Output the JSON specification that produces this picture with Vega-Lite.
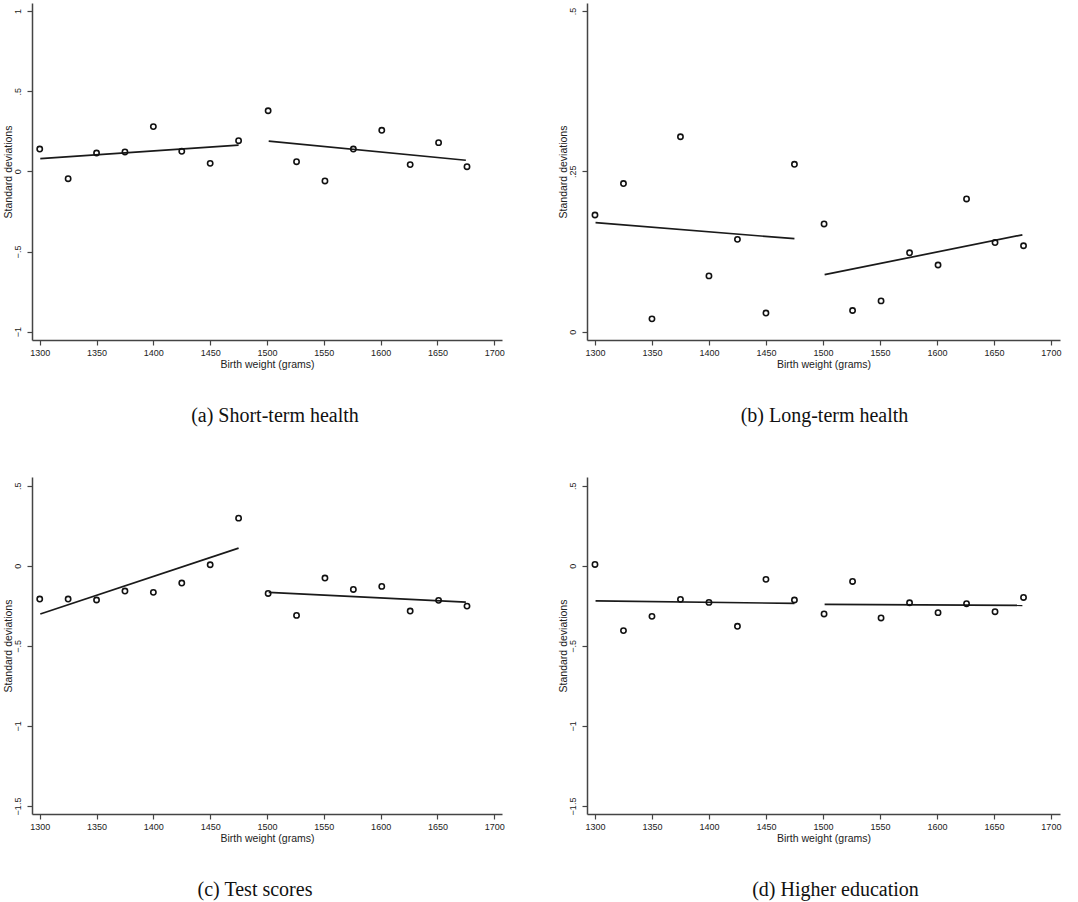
{
  "$schema": "https://vega.github.io/schema/vega-lite/v6.json",
  "background": "white",
  "padding": {"left": 2, "top": 3, "right": 5, "bottom": 5},
  "datasets": {
    "pts": [
      {"panel": "a", "x": 1300, "y": 0.139}, {"panel": "a", "x": 1325, "y": -0.046}, {"panel": "a", "x": 1350, "y": 0.114}, {"panel": "a", "x": 1375, "y": 0.121},
      {"panel": "a", "x": 1400, "y": 0.279}, {"panel": "a", "x": 1425, "y": 0.125}, {"panel": "a", "x": 1450, "y": 0.05}, {"panel": "a", "x": 1475, "y": 0.191},
      {"panel": "a", "x": 1501, "y": 0.378}, {"panel": "a", "x": 1526, "y": 0.06}, {"panel": "a", "x": 1551, "y": -0.06}, {"panel": "a", "x": 1576, "y": 0.139},
      {"panel": "a", "x": 1601, "y": 0.256}, {"panel": "a", "x": 1626, "y": 0.042}, {"panel": "a", "x": 1651, "y": 0.179}, {"panel": "a", "x": 1676, "y": 0.029},
      {"panel": "b", "x": 1300, "y": 0.182}, {"panel": "b", "x": 1325, "y": 0.231}, {"panel": "b", "x": 1350, "y": 0.02}, {"panel": "b", "x": 1375, "y": 0.304},
      {"panel": "b", "x": 1400, "y": 0.087}, {"panel": "b", "x": 1425, "y": 0.144}, {"panel": "b", "x": 1450, "y": 0.029}, {"panel": "b", "x": 1475, "y": 0.261},
      {"panel": "b", "x": 1501, "y": 0.168}, {"panel": "b", "x": 1526, "y": 0.033}, {"panel": "b", "x": 1551, "y": 0.048}, {"panel": "b", "x": 1576, "y": 0.123},
      {"panel": "b", "x": 1601, "y": 0.104}, {"panel": "b", "x": 1626, "y": 0.207}, {"panel": "b", "x": 1651, "y": 0.139}, {"panel": "b", "x": 1676, "y": 0.134},
      {"panel": "c", "x": 1300, "y": -0.208}, {"panel": "c", "x": 1325, "y": -0.208}, {"panel": "c", "x": 1350, "y": -0.214}, {"panel": "c", "x": 1375, "y": -0.158},
      {"panel": "c", "x": 1400, "y": -0.166}, {"panel": "c", "x": 1425, "y": -0.108}, {"panel": "c", "x": 1450, "y": 0.006}, {"panel": "c", "x": 1475, "y": 0.297},
      {"panel": "c", "x": 1501, "y": -0.173}, {"panel": "c", "x": 1526, "y": -0.31}, {"panel": "c", "x": 1551, "y": -0.077}, {"panel": "c", "x": 1576, "y": -0.148},
      {"panel": "c", "x": 1601, "y": -0.129}, {"panel": "c", "x": 1626, "y": -0.283}, {"panel": "c", "x": 1651, "y": -0.216}, {"panel": "c", "x": 1676, "y": -0.252},
      {"panel": "d", "x": 1300, "y": 0.008}, {"panel": "d", "x": 1325, "y": -0.405}, {"panel": "d", "x": 1350, "y": -0.316}, {"panel": "d", "x": 1375, "y": -0.21},
      {"panel": "d", "x": 1400, "y": -0.229}, {"panel": "d", "x": 1425, "y": -0.378}, {"panel": "d", "x": 1450, "y": -0.085}, {"panel": "d", "x": 1475, "y": -0.214},
      {"panel": "d", "x": 1501, "y": -0.301}, {"panel": "d", "x": 1526, "y": -0.098}, {"panel": "d", "x": 1551, "y": -0.326}, {"panel": "d", "x": 1576, "y": -0.231},
      {"panel": "d", "x": 1601, "y": -0.293}, {"panel": "d", "x": 1626, "y": -0.237}, {"panel": "d", "x": 1651, "y": -0.287}, {"panel": "d", "x": 1676, "y": -0.198}
    ],
    "fits": [
      {"panel": "a", "side": "L", "x": 1300.5, "y": 0.079}, {"panel": "a", "side": "L", "x": 1475, "y": 0.164},
      {"panel": "a", "side": "R", "x": 1501.5, "y": 0.189}, {"panel": "a", "side": "R", "x": 1675, "y": 0.069},
      {"panel": "b", "side": "L", "x": 1300.5, "y": 0.17}, {"panel": "b", "side": "L", "x": 1475, "y": 0.145},
      {"panel": "b", "side": "R", "x": 1501.5, "y": 0.089}, {"panel": "b", "side": "R", "x": 1675, "y": 0.151},
      {"panel": "c", "side": "L", "x": 1300.5, "y": -0.301}, {"panel": "c", "side": "L", "x": 1475, "y": 0.11},
      {"panel": "c", "side": "R", "x": 1501.5, "y": -0.166}, {"panel": "c", "side": "R", "x": 1675, "y": -0.227},
      {"panel": "d", "side": "L", "x": 1300.5, "y": -0.22}, {"panel": "d", "side": "L", "x": 1475, "y": -0.235},
      {"panel": "d", "side": "R", "x": 1501.5, "y": -0.241}, {"panel": "d", "side": "R", "x": 1675, "y": -0.247}
    ]
  },
  "columns": 2,
  "bounds": "flush",
  "spacing": {"column": 85, "row": 137},
  "concat": [
    {
      "width": 470, "height": 337,
      "title": {"text": "(a) Short-term health", "dx": 8},
      "layer": [
        {"mark": {"type": "rule", "color": "#9a9a9a", "strokeDash": [1, 2], "strokeWidth": 1},
         "encoding": {"x": {"datum": 1500, "type": "quantitative"}}},
        {"data": {"name": "fits"}, "transform": [{"filter": "datum.panel === 'a'"}],
         "mark": {"type": "line", "color": "#1a1a1a", "strokeWidth": 1.7},
         "encoding": {"x": {"field": "x", "type": "quantitative"}, "y": {"field": "y", "type": "quantitative"}, "detail": {"field": "side"}}},
        {"data": {"name": "pts"}, "transform": [{"filter": "datum.panel === 'a'"}],
         "mark": {"type": "point", "shape": "circle", "filled": false, "color": "#111", "size": 28, "strokeWidth": 1.6, "opacity": 1},
         "encoding": {
           "x": {"field": "x", "type": "quantitative", "scale": {"domain": [1293.2, 1706.8], "nice": false, "zero": false}, "axis": {"values": [1300, 1350, 1400, 1450, 1500, 1550, 1600, 1650, 1700]}, "title": "Birth weight (grams)"},
           "y": {"field": "y", "type": "quantitative", "scale": {"domain": [-1.052, 1.05], "nice": false, "zero": false}, "axis": {"values": [-1, -0.5, 0, 0.5, 1]}, "title": "Standard deviations"}
         }}
      ]
    },
    {
      "width": 473, "height": 337,
      "title": {"text": "(b) Long-term health", "dx": 1},
      "layer": [
        {"mark": {"type": "rule", "color": "#9a9a9a", "strokeDash": [1, 2], "strokeWidth": 1},
         "encoding": {"x": {"datum": 1500, "type": "quantitative"}}},
        {"data": {"name": "fits"}, "transform": [{"filter": "datum.panel === 'b'"}],
         "mark": {"type": "line", "color": "#1a1a1a", "strokeWidth": 1.7},
         "encoding": {"x": {"field": "x", "type": "quantitative"}, "y": {"field": "y", "type": "quantitative"}, "detail": {"field": "side"}}},
        {"data": {"name": "pts"}, "transform": [{"filter": "datum.panel === 'b'"}],
         "mark": {"type": "point", "shape": "circle", "filled": false, "color": "#111", "size": 28, "strokeWidth": 1.6, "opacity": 1},
         "encoding": {
           "x": {"field": "x", "type": "quantitative", "scale": {"domain": [1293, 1708], "nice": false, "zero": false}, "axis": {"values": [1300, 1350, 1400, 1450, 1500, 1550, 1600, 1650, 1700]}, "title": "Birth weight (grams)"},
           "y": {"field": "y", "type": "quantitative", "scale": {"domain": [-0.013, 0.5126], "nice": false, "zero": false}, "axis": {"values": [0, 0.25, 0.5]}, "title": "Standard deviations"}
         }}
      ]
    },
    {
      "width": 470, "height": 337,
      "title": {"text": "(c) Test scores", "dx": -12},
      "layer": [
        {"mark": {"type": "rule", "color": "#9a9a9a", "strokeDash": [1, 2], "strokeWidth": 1},
         "encoding": {"x": {"datum": 1500, "type": "quantitative"}}},
        {"data": {"name": "fits"}, "transform": [{"filter": "datum.panel === 'c'"}],
         "mark": {"type": "line", "color": "#1a1a1a", "strokeWidth": 1.7},
         "encoding": {"x": {"field": "x", "type": "quantitative"}, "y": {"field": "y", "type": "quantitative"}, "detail": {"field": "side"}}},
        {"data": {"name": "pts"}, "transform": [{"filter": "datum.panel === 'c'"}],
         "mark": {"type": "point", "shape": "circle", "filled": false, "color": "#111", "size": 28, "strokeWidth": 1.6, "opacity": 1},
         "encoding": {
           "x": {"field": "x", "type": "quantitative", "scale": {"domain": [1293.2, 1706.8], "nice": false, "zero": false}, "axis": {"values": [1300, 1350, 1400, 1450, 1500, 1550, 1600, 1650, 1700]}, "title": "Birth weight (grams)"},
           "y": {"field": "y", "type": "quantitative", "scale": {"domain": [-1.55, 0.554], "nice": false, "zero": false}, "axis": {"values": [-1.5, -1, -0.5, 0, 0.5]}, "title": "Standard deviations"}
         }}
      ]
    },
    {
      "width": 473, "height": 337,
      "title": {"text": "(d) Higher education", "dx": 12},
      "layer": [
        {"mark": {"type": "rule", "color": "#9a9a9a", "strokeDash": [1, 2], "strokeWidth": 1},
         "encoding": {"x": {"datum": 1500, "type": "quantitative"}}},
        {"data": {"name": "fits"}, "transform": [{"filter": "datum.panel === 'd'"}],
         "mark": {"type": "line", "color": "#1a1a1a", "strokeWidth": 1.7},
         "encoding": {"x": {"field": "x", "type": "quantitative"}, "y": {"field": "y", "type": "quantitative"}, "detail": {"field": "side"}}},
        {"data": {"name": "pts"}, "transform": [{"filter": "datum.panel === 'd'"}],
         "mark": {"type": "point", "shape": "circle", "filled": false, "color": "#111", "size": 28, "strokeWidth": 1.6, "opacity": 1},
         "encoding": {
           "x": {"field": "x", "type": "quantitative", "scale": {"domain": [1293, 1708], "nice": false, "zero": false}, "axis": {"values": [1300, 1350, 1400, 1450, 1500, 1550, 1600, 1650, 1700]}, "title": "Birth weight (grams)"},
           "y": {"field": "y", "type": "quantitative", "scale": {"domain": [-1.55, 0.554], "nice": false, "zero": false}, "axis": {"values": [-1.5, -1, -0.5, 0, 0.5]}, "title": "Standard deviations"}
         }}
      ]
    }
  ],
  "resolve": {"scale": {"x": "independent", "y": "independent"}},
  "config": {
    "view": {"stroke": null},
    "font": "Liberation Sans",
    "title": {"orient": "bottom", "anchor": "middle", "frame": "group", "font": "Liberation Serif", "fontSize": 20, "fontWeight": "normal", "color": "#111", "offset": 36},
    "axis": {
      "grid": false,
      "domainColor": "#444", "domainWidth": 1.5,
      "tickColor": "#444", "tickWidth": 1.2, "tickSize": 5,
      "labelFont": "Liberation Sans", "labelFontSize": 9, "labelColor": "#222",
      "titleFont": "Liberation Sans", "titleFontSize": 10.5, "titleFontWeight": "normal", "titleColor": "#222"
    },
    "axisX": {"format": "d", "labelPadding": 3, "titlePadding": 2, "labelFlush": false, "labelOverlap": false},
    "axisY": {"labelAngle": 270, "labelAlign": "center", "labelBaseline": "bottom", "labelPadding": 5, "titlePadding": 0,
      "labelExpr": "replace(format(datum.value, ''), '0.', '.')", "labelFlush": false, "labelOverlap": false}
  }
}
